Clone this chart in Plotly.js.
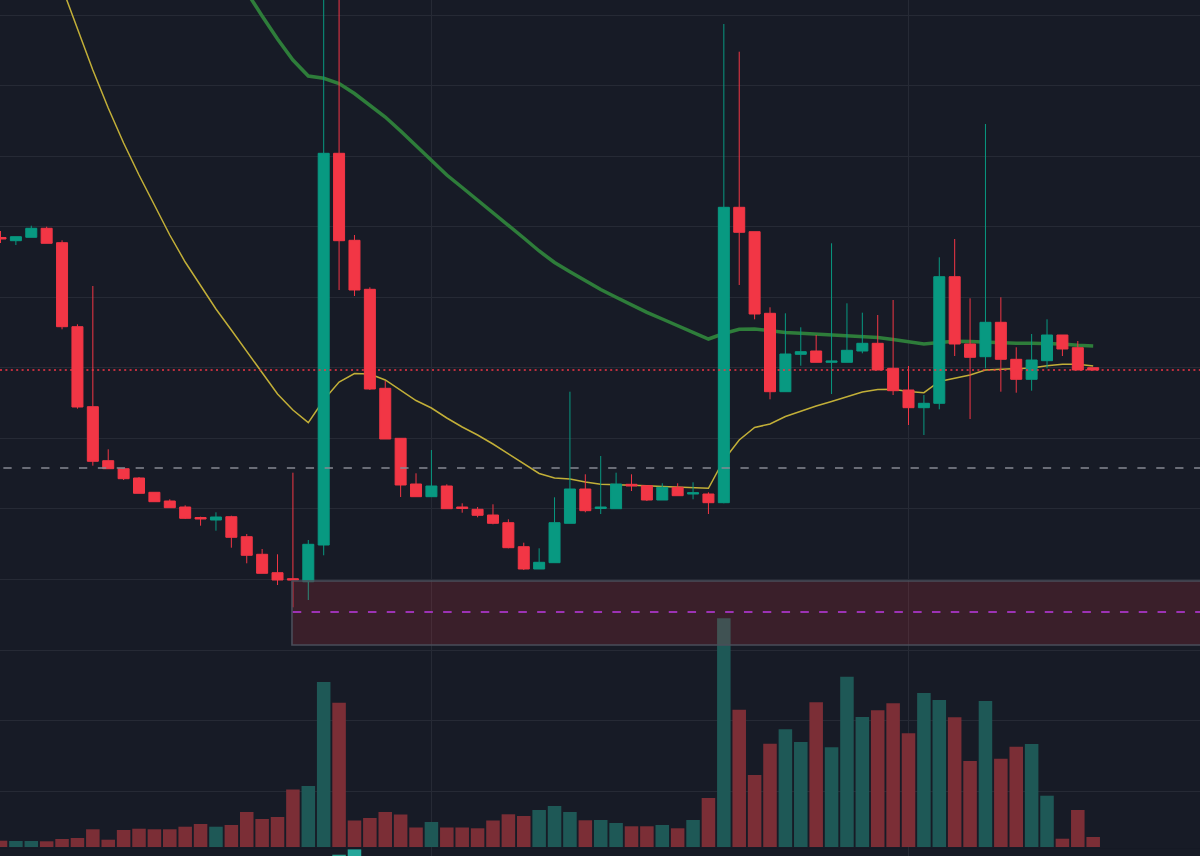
<!DOCTYPE html>
<html>
<head>
<meta charset="utf-8">
<script src="https://cdn.plot.ly/plotly-3.0.1.min.js"></script>
<style>
html,body{margin:0;padding:0;background:#171b26;overflow:hidden;}
#chart{width:1200px;height:856px;}
</style>
</head>
<body>
<div id="chart"></div>
<script>
// candle index (time slots)
const idx = [0,1,2,3,4,5,6,7,8,9,10,11,12,13,14,15,16,17,18,19,20,21,22,23,24,25,26,27,28,29,30,31,32,33,34,35,
  36,37,38,39,40,41,42,43,44,45,46,47,48,49,50,51,52,53,54,55,56,57,58,59,60,61,62,63,64,65,66,67,68,69,70,71];

const openP = [618.5,615.3,618.7,627.7,613.3,529.3,449.3,395.3,387.3,378,
  363.7,355,349,338.5,336,339.3,319.3,301.7,283.3,277.3,
  274.3,311,702.7,615.7,566.7,467.7,417.7,372,359.3,370,
  349,346.7,341,333.3,309.3,287,293.3,332.7,367,347.5,
  347.3,371.7,370.3,356,368.7,362,362,353.3,648.7,624.3,
  542.7,464.3,501.7,505,493.7,493.7,505,512.7,487.7,466,
  448.3,452.7,579.3,512,499.3,533.7,496.7,476.7,495.3,521,
  508.3,488.3];
const highP = [625,619.3,630.3,629.3,615.7,531.7,570,406.7,387.3,379,
  363.7,356.7,350.7,339.3,343.7,340.3,322,307,301.7,383.3,
  316,920,920,621,568.7,475,417.7,382.7,406,371.7,
  352.7,349,351.7,336.7,313.3,307.7,358.7,464.3,381.7,400,
  383.3,381.7,370.3,372.7,372.7,373.7,363.7,832,804.3,624.3,
  548.7,542.7,528.7,521,612.7,552.7,543.3,541,556,490,
  461,598.7,617,557.7,732,558.7,508.7,522,536.7,521,
  515,488.3];
const lowP = [613,611,618.7,612.7,526.7,447.3,390.3,387.3,376,362.7,
  354.3,348.3,337,330.3,325.3,308.3,292.7,282.7,271,248.7,
  256,300.7,566,560,466,417,359,359.3,359.3,347.3,
  343.3,338.7,331.7,307.7,286,287,293.3,332.7,343.7,342,
  347.3,365,355,356,360.3,356.7,342,352.7,571,536.7,
  456.7,464.3,490.3,493.7,462,493.7,502.7,486,461,431,
  421,446.7,500,437,487.7,464.3,463.3,465.3,487.7,500,
  486,485.5];
const closeP = [617,619.3,627.7,612.7,529.3,449,394.7,387.3,377.3,362.7,
  354.3,348.3,337.7,337,339,318.7,300.7,282.7,276,276,
  311.7,702.7,615.3,566,467,417,371,359.3,370,347.3,
  347.5,340.7,332.7,308.3,287,293.7,333.3,367,345.3,349,
  372,370,356,368.7,360.3,363.3,353.3,648.7,623.7,542,
  464.3,502,504.3,493.7,495,505.7,512.7,486,465.3,448.3,
  452.7,579.3,512,498.7,533.7,496.7,476.7,496,521,507,
  486,486];

const volume = [6.3,6,6,5.7,8,9,17.7,7.3,17,18.3,
  17.7,17.7,20.3,23,20.3,22,35,28,30,57.5,
  61,165,144.3,26.5,29,35,32.5,19.5,25,19.5,
  19.5,18.7,26.5,32.7,31,37,41,35,26.7,27,
  24,20.7,20.7,22,18.7,27,49,228.7,137.3,72,
  103.3,117.7,105,144.7,99.7,170.3,130,136.7,143.7,113.7,
  154,147,129.7,86,146,88.3,100.3,103,51.3,8.3,
  37,10];

const maFast = [1041,996,952,910,869,827,786,748,713,681,
  651,621,594,570.5,547,526,505,483,462,446,
  433.3,456,474,482.5,482,476,466,455.5,448,438,
  429,421,412,402,392,382.5,378,377,374,371.7,
  371.3,371,370.3,369.5,369,368.3,367.7,396,416,428.5,
  432,439.5,445,450,454.5,459.5,464,466.5,466.7,464.5,
  463.3,474.5,478,481,486,486.7,486.7,488,490.3,491.7,
  491.7,490];
const maSlow = [null,null,null,null,null,null,null,null,null,null,
  null,null,null,null,911,888,864,840,817,796,
  780,777.7,772.5,762.5,750.5,739,725,710.5,696.5,681,
  668.5,656,644,630.5,618,605,593.5,584.3,575,566.5,
  558.7,551,543.7,537,530.3,523,517,522.5,526.7,527,
  525,523.5,522.7,521.7,520.7,520,519.5,518.5,516.4,514.3,
  512,513.6,514.7,514.5,513.7,512.7,512.7,512.7,512.7,512,
  510.7,510];

// lower indicator pane (only its top edge is visible)
const histX = [22,23];
const histVals = [1.3,6.6];

// horizontal levels / zone
const lastPriceLevel = 486;
const grayLevel = 388;
const zoneStart = 18.94;
const zoneTop = 275;
const zoneBottom = 211;
const zoneMid = 244;

const UP = '#089981', DOWN = '#f23645';
const volColors = closeP.map((c,i)=> c >= openP[i] ? '#1e5856' : '#7b2e36');

const BG = '#171b26', GRID = '#262a35';

const traces = [
  {type:'scatter', mode:'lines', x:idx, y:maFast, xaxis:'x', yaxis:'y',
   line:{color:'#c2af38', width:1.5}, hoverinfo:'skip', connectgaps:false},
  {type:'scatter', mode:'lines', x:idx, y:maSlow, xaxis:'x', yaxis:'y',
   line:{color:'#2e7d3a', width:3.5}, hoverinfo:'skip', connectgaps:false},
  {type:'candlestick', x:idx, open:openP, high:highP, low:lowP, close:closeP,
   xaxis:'x', yaxis:'y2', whiskerwidth:0,
   increasing:{line:{color:UP,width:1}, fillcolor:UP},
   decreasing:{line:{color:DOWN,width:1}, fillcolor:DOWN}, hoverinfo:'skip'},
  {type:'bar', x:idx, y:volume, xaxis:'x', yaxis:'y3',
   marker:{color:volColors, line:{width:0}}, hoverinfo:'skip'},
  {type:'bar', x:histX, y:histVals, xaxis:'x', yaxis:'y4',
   marker:{color:['#2a9d8c','#26a69a'], line:{width:0}}, hoverinfo:'skip'}
];

const layout = {
  width:1200, height:856,
  margin:{l:0,r:0,t:0,b:0,pad:0},
  paper_bgcolor:BG, plot_bgcolor:BG,
  showlegend:false,
  boxgap:0.285,
  boxgroupgap:0,
  bargap:0.12,
  xaxis:{range:[-0.0325,77.94], tickmode:'linear', tick0:28, dtick:31,
    showgrid:true, gridcolor:GRID, gridwidth:1, showticklabels:false,
    zeroline:false, showline:false, ticks:'', rangeslider:{visible:false}, fixedrange:true},
  yaxis:{domain:[0,1], range:[0,856], tickmode:'linear', tick0:206, dtick:70.55,
    showgrid:true, gridcolor:GRID, gridwidth:1, showticklabels:false,
    zeroline:false, showline:false, ticks:'', fixedrange:true},
  yaxis2:{overlaying:'y', range:[0,856], showgrid:false, showticklabels:false,
    zeroline:false, showline:false, ticks:'', fixedrange:true},
  yaxis3:{overlaying:'y', range:[-9,847], showgrid:false, showticklabels:false,
    zeroline:false, showline:false, ticks:'', fixedrange:true},
  yaxis4:{domain:[0,0.0082], anchor:'x', range:[0,7], showgrid:false, showticklabels:false,
    zeroline:false, showline:false, ticks:'', fixedrange:true},
  shapes:[
    {type:'rect', xref:'x', yref:'y', x0:zoneStart, x1:80, y0:zoneBottom, y1:zoneTop,
     fillcolor:'rgba(242,54,69,0.16)', line:{color:'#4a4e5a', width:1.6}, layer:'above'},
    {type:'line', xref:'x', yref:'y', x0:zoneStart+0.05, x1:80, y0:zoneMid, y1:zoneMid,
     line:{color:'#9c32b4', width:2, dash:'8.5px,10.3px'}, layer:'above'},
    {type:'line', xref:'paper', yref:'y', x0:0.0028, x1:1, y0:grayLevel, y1:grayLevel,
     line:{color:'#868993', width:1.7, dash:'8.3px,10.6px'}, layer:'above'},
    {type:'line', xref:'paper', yref:'y', x0:0, x1:1, y0:lastPriceLevel, y1:lastPriceLevel,
     line:{color:'#f23645', width:1.6, dash:'2px,3.4px'}, layer:'above'},
    {type:'line', xref:'paper', yref:'paper', x0:0, x1:1, y0:0.0076, y1:0.0076,
     line:{color:'#2a2e39', width:1}, layer:'below'}
  ]
};

Plotly.newPlot('chart', traces, layout, {staticPlot:true, displayModeBar:false});
</script>
</body>
</html>
